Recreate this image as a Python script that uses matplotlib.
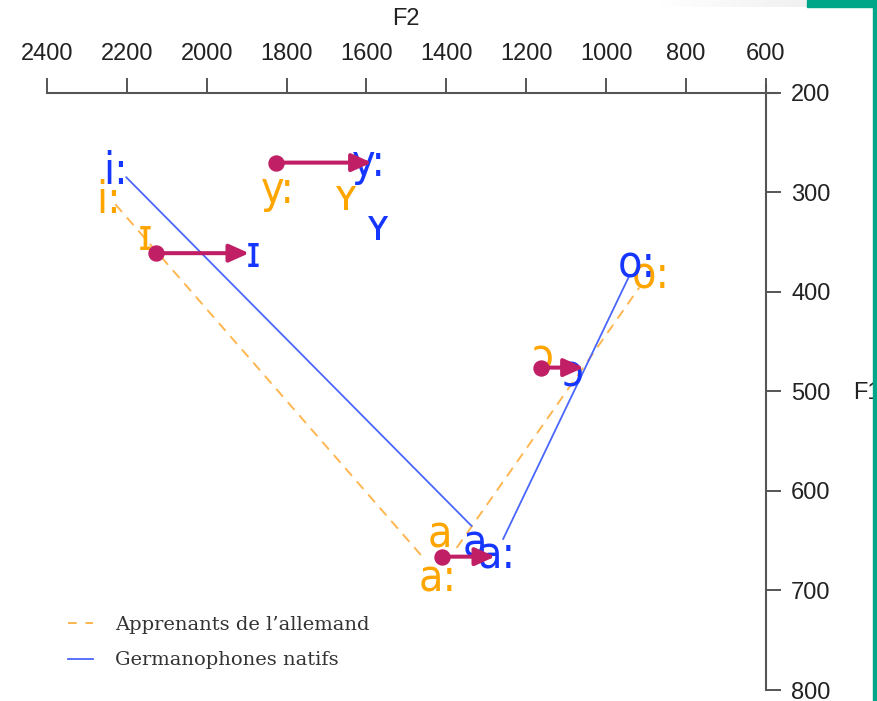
import matplotlib
matplotlib.use("Agg")
import matplotlib.pyplot as plt
from matplotlib.patches import Rectangle
from matplotlib.lines import Line2D
from matplotlib.font_manager import FontProperties
import numpy as np

# ---------------- data ----------------
vowels = ["i:", "y:", "ʏ", "ɪ", "o:", "ɔ", "a", "a:"]
native_f2 = [2228, 1594, 1571, 1884, 923, 1083, 1328, 1273]
native_f1 = [274, 266, 331, 358, 368, 478, 649, 661]
learner_f2 = [2246, 1822, 1651, 2155, 888, 1158, 1416, 1421]
learner_f1 = [304, 293, 301, 341, 379, 462, 640, 684]

polygon_vowels = ["i:", "a:", "o:"]

shift_vowels = ["y:", "ɪ", "ɔ", "a"]
shift_from_f2 = [1827, 2127, 1163, 1411]
shift_to_f2 = [1587, 1894, 1056, 1278]
shift_f1 = [270, 361, 476, 666]

x_ticks = [2400, 2200, 2000, 1800, 1600, 1400, 1200, 1000, 800, 600]
y_ticks = [200, 300, 400, 500, 600, 700, 800]
legend_labels = ["Apprenants de l\u2019allemand", "Germanophones natifs"]

# ---------------- style ----------------
W, H = 877, 701
C_NATIVE_TXT = "#1536ff"
C_NATIVE_LINE = "#4a66ff"
C_LEARN_TXT = "#ffa500"
C_LEARN_LINE = "#ffb650"
C_ARROW = "#c01f65"
C_AXIS = "#555555"
C_TEXT = "#222222"
C_TEAL = "#00a688"
TICK_FAMILY, TICK_SIZE = "Liberation Sans", 17
LABEL_FONT = FontProperties(family="DejaVu Sans", stretch="condensed", size=32)


def fx(px):
    return px / W


def fy(py):
    return 1 - py / H


fig = plt.figure(figsize=(W / 100, H / 100), dpi=100)
fig.patch.set_facecolor("white")

ax = fig.add_axes([fx(47), fy(690), fx(777) - fx(47), fy(85) - fy(690)])
ax.set_xlim(2400, 572)
ax.set_ylim(800, 192)
ax.set_facecolor("none")

for s in ("left", "bottom"):
    ax.spines[s].set_visible(False)
ax.spines["top"].set_position(("data", 200))
ax.spines["top"].set_bounds(2400, 572)
ax.spines["right"].set_position(("data", 600))
ax.spines["right"].set_bounds(192, 800)
for s in ("top", "right"):
    ax.spines[s].set_color(C_AXIS)
    ax.spines[s].set_linewidth(1.5)

ax.xaxis.tick_top()
ax.yaxis.tick_right()
ax.set_xticks(x_ticks)
ax.set_yticks(y_ticks)
ax.set_xticklabels([str(t) for t in x_ticks])
ax.set_yticklabels([str(t) for t in y_ticks])
ax.tick_params(axis="x", direction="out", length=10.8, width=1.4, color=C_AXIS,
               pad=9, labelsize=TICK_SIZE, labelcolor=C_TEXT, labelfontfamily=TICK_FAMILY)
ax.tick_params(axis="y", direction="out", length=10.8, width=1.4, color=C_AXIS,
               pad=7.5, labelsize=TICK_SIZE, labelcolor=C_TEXT, labelfontfamily=TICK_FAMILY)

fig.text(fx(406), fy(19), "F2", ha="center", va="center", fontsize=TICK_SIZE,
         family=TICK_FAMILY, color=C_TEXT)
fig.text(fx(853), fy(393), "F1", ha="left", va="center", fontsize=TICK_SIZE,
         family=TICK_FAMILY, color=C_TEXT)

# polygons (i:, a:, o:) with trimmed ends
groups = [
    (learner_f2, learner_f1, C_LEARN_LINE, (0, (4.5, 4.5)), 1.4, [(8, 19), (24, 15)]),
    (native_f2, native_f1, C_NATIVE_LINE, "-", 1.3, [(10.7, 26), (10, 13)]),
]
for f2s, f1s, col, ls, lw, shrinks in groups:
    pts = [(f2s[vowels.index(v)], f1s[vowels.index(v)]) for v in polygon_vowels]
    for k in range(len(pts) - 1):
        ax.annotate("", xy=pts[k + 1], xytext=pts[k],
                    arrowprops=dict(arrowstyle="-", color=col, lw=lw, linestyle=ls,
                                    shrinkA=shrinks[k][0], shrinkB=shrinks[k][1]),
                    zorder=2)

# vowel labels
for v, x, y in zip(vowels, learner_f2, learner_f1):
    ax.text(x, y, v, color=C_LEARN_TXT, fontproperties=LABEL_FONT, ha="center",
            va="center_baseline", zorder=3)
for v, x, y in zip(vowels, native_f2, native_f1):
    ax.text(x, y, v, color=C_NATIVE_TXT, fontproperties=LABEL_FONT, ha="center",
            va="center_baseline", zorder=3)

# shift arrows
for x0, x1, y in zip(shift_from_f2, shift_to_f2, shift_f1):
    ax.annotate("", xy=(x1, y), xytext=(x0, y),
                arrowprops=dict(arrowstyle="-|>,head_length=12,head_width=5.4",
                                mutation_scale=1, color=C_ARROW, lw=2.9,
                                shrinkA=0, shrinkB=0),
                zorder=5)
    ax.plot([x0], [y], "o", ms=10.8, color=C_ARROW, mec=C_ARROW, zorder=6)

# legend
handles = [Line2D([], [], color=C_LEARN_LINE, lw=1.4, linestyle=(0, (4.5, 4.5))),
           Line2D([], [], color=C_NATIVE_LINE, lw=1.3)]
leg = ax.legend(handles, legend_labels, loc="upper left",
                bbox_to_anchor=(fx(68), fy(616)), bbox_transform=fig.transFigure,
                frameon=False, borderpad=0, borderaxespad=0, handlelength=1.29,
                handletextpad=1.13, labelspacing=0.89,
                prop=FontProperties(family="DejaVu Serif", size=14))
for t in leg.get_texts():
    t.set_color("#333333")

# screenshot decorations
grad_ax = fig.add_axes([fx(650), fy(7), fx(807) - fx(650), fy(0) - fy(7)])
grad_ax.imshow(np.linspace(1.0, 0.94, 256)[None, :], cmap="gray", vmin=0, vmax=1,
               aspect="auto")
grad_ax.axis("off")
fig.add_artist(Rectangle((fx(807), fy(7)), fx(877) - fx(807), fy(0) - fy(7),
                         transform=fig.transFigure, color=C_TEAL, zorder=10))
fig.add_artist(Rectangle((fx(873), 0), fx(877) - fx(873), 1,
                         transform=fig.transFigure, color=C_TEAL, zorder=10))

fig.savefig("out.png", dpi=100)
